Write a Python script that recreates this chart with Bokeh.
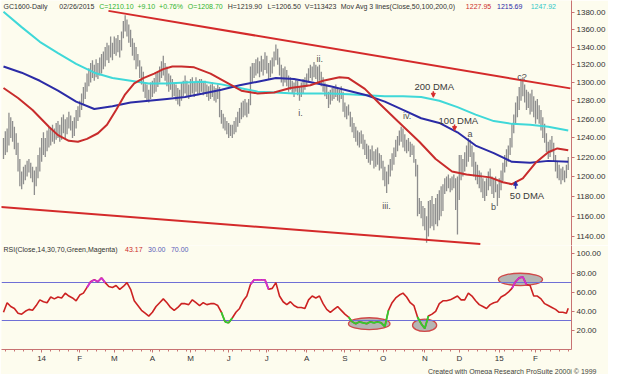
import math
from bokeh.plotting import figure
from bokeh.models import (Range1d, FixedTicker, PrintfTickFormatter, Label, Arrow,
                          NormalHead, ColumnDataSource, Title)
from bokeh.layouts import column
from bokeh.embed import file_html
from bokeh.resources import INLINE

# ---------------- data ----------------
lows = [
    1218, 1222, 1225, 1232, 1240, 1236, 1228, 1222, 1205, 1190,
    1187, 1192, 1196, 1200, 1204, 1198, 1194, 1181, 1190, 1198,
    1205, 1215, 1222, 1220, 1226, 1230, 1232, 1236, 1234, 1238,
    1240, 1236, 1238, 1245, 1240, 1244, 1250, 1248, 1240, 1242,
    1250, 1258, 1262, 1270, 1275, 1282, 1290, 1296, 1300, 1305,
    1302, 1306, 1304, 1308, 1310, 1315, 1318, 1325, 1322, 1328,
    1325, 1332, 1330, 1334, 1328, 1336, 1350, 1358, 1352, 1345,
    1340, 1330, 1325, 1315, 1318, 1305, 1298, 1290, 1283, 1280,
    1278, 1282, 1284, 1288, 1290, 1295, 1300, 1305, 1308, 1302,
    1296, 1290, 1292, 1284, 1285, 1280, 1276, 1274, 1280, 1285,
    1288, 1284, 1282, 1286, 1288, 1284, 1290, 1286, 1288, 1290,
    1286, 1288, 1284, 1280, 1282, 1284, 1280, 1278, 1282, 1262,
    1255, 1250, 1248, 1244, 1240, 1242, 1240, 1244, 1246, 1252,
    1256, 1260, 1262, 1264, 1262, 1266, 1275, 1300, 1305, 1308,
    1310, 1306, 1312, 1308, 1314, 1310, 1304, 1306, 1310, 1318,
    1325, 1320, 1308, 1300, 1296, 1300, 1296, 1290, 1292, 1288,
    1284, 1290, 1286, 1280, 1284, 1288, 1292, 1295, 1300, 1305,
    1302, 1306, 1304, 1300, 1302, 1296, 1290, 1285, 1282, 1272,
    1276, 1280, 1282, 1284, 1280, 1278, 1282, 1268, 1262, 1260,
    1264, 1252, 1246, 1240, 1236, 1232, 1230, 1234, 1228, 1222,
    1218, 1214, 1212, 1216, 1208, 1210, 1212, 1206, 1208, 1196,
    1190, 1183, 1192, 1200, 1206, 1212, 1220, 1226, 1232, 1236,
    1230, 1226, 1224, 1226, 1220, 1222, 1214, 1200, 1160, 1162,
    1158, 1150, 1146, 1134, 1140, 1148, 1150, 1146, 1152, 1150,
    1156, 1160, 1165, 1182, 1185, 1188, 1184, 1186, 1188, 1166,
    1142, 1176, 1196, 1200, 1205, 1210, 1215, 1220, 1210, 1200,
    1196, 1192, 1188, 1184, 1178, 1175, 1180, 1186, 1190, 1182,
    1178, 1184, 1170, 1178, 1186, 1195, 1204, 1210, 1215, 1222,
    1230, 1245, 1256, 1262, 1270, 1280, 1285, 1278, 1270, 1272,
    1265, 1268, 1262, 1255, 1260, 1255, 1248, 1240, 1235, 1225,
    1218, 1220, 1225, 1215, 1205, 1198, 1196, 1192, 1196, 1194,
    1198, 1206.5,
]
highs = [
    1240, 1247, 1250, 1267, 1262, 1258, 1252, 1245, 1235, 1218,
    1205, 1210, 1212, 1216, 1218, 1214, 1210, 1206, 1210, 1222,
    1230, 1240, 1246, 1240, 1248, 1252, 1250, 1254, 1250, 1256,
    1258, 1254, 1262, 1265, 1260, 1262, 1268, 1264, 1258, 1262,
    1270, 1274, 1280, 1288, 1295, 1300, 1310, 1316, 1322, 1325,
    1320, 1326, 1322, 1328, 1332, 1335, 1340, 1345, 1342, 1352,
    1345, 1352, 1350, 1354, 1348, 1358, 1370, 1377, 1372, 1366,
    1360, 1350, 1345, 1340, 1332, 1325, 1318, 1312, 1300, 1298,
    1292, 1300, 1302, 1305, 1310, 1312, 1318, 1324, 1330, 1322,
    1318, 1310, 1308, 1304, 1300, 1298, 1294, 1292, 1300, 1302,
    1308, 1302, 1298, 1304, 1306, 1300, 1306, 1302, 1304, 1304,
    1300, 1302, 1298, 1296, 1298, 1300, 1296, 1294, 1298, 1295,
    1270, 1266, 1262, 1258, 1256, 1254, 1254, 1258, 1262, 1268,
    1272, 1278, 1280, 1282, 1278, 1282, 1318, 1322, 1322, 1326,
    1328, 1324, 1330, 1326, 1334, 1330, 1322, 1325, 1328, 1335,
    1343, 1338, 1328, 1320, 1316, 1318, 1314, 1308, 1306, 1302,
    1300, 1304, 1302, 1296, 1300, 1304, 1306, 1310, 1316, 1320,
    1318, 1323, 1320, 1318, 1320, 1312, 1306, 1300, 1298, 1290,
    1292, 1294, 1296, 1298, 1294, 1292, 1296, 1290, 1278, 1274,
    1276, 1268, 1262, 1256, 1252, 1248, 1246, 1248, 1244, 1238,
    1234, 1232, 1228, 1232, 1226, 1228, 1230, 1224, 1222, 1216,
    1210, 1205, 1212, 1218, 1224, 1230, 1238, 1242, 1248, 1252,
    1250, 1244, 1238, 1240, 1236, 1234, 1232, 1218, 1212, 1178,
    1175, 1170, 1168, 1160, 1175, 1176, 1180, 1172, 1178, 1182,
    1186, 1190, 1192, 1198, 1200, 1202, 1198, 1200, 1202, 1198,
    1200, 1222, 1222, 1218, 1225, 1232, 1240, 1238, 1232, 1225,
    1215, 1212, 1206, 1204, 1198, 1195, 1198, 1205, 1208, 1200,
    1198, 1200, 1192, 1198, 1206, 1214, 1222, 1228, 1232, 1240,
    1255, 1265, 1278, 1285, 1295, 1302, 1306, 1298, 1292, 1290,
    1288, 1292, 1285, 1280, 1282, 1275, 1270, 1262, 1255, 1245,
    1236, 1238, 1242, 1235, 1222, 1215, 1212, 1208, 1210, 1206,
    1212, 1219.9,
]
bar_idx = list(range(len(lows)))

ma50_idx = [0, 8, 16, 25, 30, 36, 41, 46, 52, 57, 62, 67, 72, 77, 83, 88, 93, 98,
            105, 114, 122, 131, 140, 149, 158, 169, 176, 185, 190, 199, 207, 217,
            229, 238, 247, 255, 268, 275, 280, 286, 293, 300, 305, 311]
ma50 = [1294, 1283, 1270, 1252, 1243, 1237, 1236, 1239, 1245, 1254, 1270, 1287,
        1299, 1305, 1310, 1315, 1318, 1318, 1317, 1310, 1301, 1291, 1288, 1289,
        1294, 1297, 1302, 1306, 1305, 1293, 1277, 1258, 1236, 1218, 1205, 1202,
        1199, 1194, 1192, 1198, 1214, 1225, 1229, 1227]

ma_idx = [0, 10, 20, 30, 40, 50, 60, 70, 80, 90, 100, 110, 120, 130, 140, 150,
          160, 170, 180, 190, 200, 210, 220, 230, 240, 250, 260, 270, 280, 290,
          300, 311]
ma100 = [1318, 1311, 1302, 1291, 1279, 1271, 1274, 1278, 1280, 1282, 1284, 1288,
         1292, 1297, 1301, 1305, 1304, 1300, 1296, 1291, 1286, 1279, 1270, 1261,
         1256, 1246, 1232, 1224, 1215, 1214, 1216, 1215]
ma200 = [1381, 1363, 1346, 1333, 1321, 1311, 1305, 1302, 1299, 1299, 1300, 1301,
         1298, 1294, 1290, 1289, 1288, 1288, 1288, 1287, 1286, 1285, 1285, 1284,
         1280, 1273, 1265, 1258, 1255, 1254, 1252, 1248]

rsi_idx = list(range(0, 311, 2)) + [311]
rsi = [
    39, 49, 45, 43, 38, 37, 40, 42, 41, 46,
    52, 50, 49, 55, 53, 55, 54, 59, 56, 54,
    51, 57, 59, 65, 71, 73, 71, 75, 70, 66,
    65, 67, 63, 66, 70, 63, 51, 46, 41, 38,
    35, 39, 45, 49, 53, 49, 44, 41, 44, 48,
    48, 47, 52, 49, 46, 49, 47, 48, 48, 46,
    39, 29, 28, 33, 39, 43, 51, 56, 68, 73,
    73, 73, 73, 63, 64, 70, 56, 50, 47, 50,
    46, 44, 44, 43, 52, 56, 54, 56, 48, 42,
    39, 42, 45, 41, 37, 34, 29, 27, 29, 28,
    27, 29, 28, 29, 28, 24, 41, 49, 54, 57,
    59, 55, 49, 46, 34, 27, 22, 35, 37, 40,
    48, 51, 51, 52, 54, 56, 52, 52, 59, 56,
    51, 47, 45, 43, 47, 49, 50, 55, 57, 60,
    64, 71, 75, 76, 68, 67, 56, 56, 53, 48,
    46, 44, 42, 39, 39, 38, 43.17,
]

# trend lines (bar index, price) and highlight ellipses (bar index, RSI)
upper_x = [57.8, 312.2]
upper_y = [1382.0, 1293.6]
lower_x = [-1.6, 262.6]
lower_y = [1169.1, 1132.8]
ell_x = [201.4, 231.9, 284.7]
ell_y = [27.0, 25.4, 73.4]
ell_w = [22.9, 13.3, 24.3]
ell_h = [12.5, 12.9, 12.9]

month_idx = [21, 42, 61, 82, 103, 124, 145, 167, 188, 209, 232, 251, 273, 293]
month_labels = ["14", "F", "M", "A", "M", "J", "J", "A", "S", "O", "N", "D", "15", "F"]
price_ticks = [1140, 1160, 1180, 1200, 1220, 1240, 1260, 1280, 1300, 1320, 1340, 1360, 1380]
rsi_ticks = [20, 40, 60, 80, 100]

# ---------------- styling / layout ----------------
BG = "#fdfcee"
FONT = "Liberation Sans"
AX = "#c87272"
TXT = "#333333"
X0, X1 = -1.1, 312.8
Y0, Y1 = 1131.3, 1394.3
W = 608
RB = 35
FRAME_W = W - 1 - RB
H1 = 245


def fx(px):
    return X0 + px * (X1 - X0) / FRAME_W


def fy(py):
    return math.exp(math.log(Y1) - py / H1 * (math.log(Y1) - math.log(Y0)))


p1 = figure(width=W, height=H1, x_range=Range1d(X0, X1), y_range=Range1d(Y0, Y1),
            y_axis_type="log", y_axis_location="right", x_axis_location=None,
            output_backend="svg", toolbar_location=None, title=None,
            min_border_left=1, min_border_right=RB, min_border_top=0, min_border_bottom=0)
p2 = figure(width=W, height=129, x_range=p1.x_range, y_range=Range1d(0, 108.9),
            y_axis_location="right", output_backend="svg", toolbar_location=None,
            title=None, min_border_left=1, min_border_right=RB, min_border_top=0)

for p in (p1, p2):
    p.background_fill_color = BG
    p.border_fill_color = BG
    p.outline_line_color = None
    p.xgrid.visible = False
    p.ygrid.visible = False
    for ax in p.axis:
        ax.axis_line_color = AX
        ax.major_tick_line_color = AX
        ax.minor_tick_line_color = AX
        ax.major_tick_in = 0
        ax.major_tick_out = 3
        ax.minor_tick_in = 0
        ax.minor_tick_out = 2
        ax.major_label_text_font = FONT
        ax.major_label_text_font_size = "8px"
        ax.major_label_text_color = TXT
        ax.major_label_standoff = 2

p1.yaxis.ticker = FixedTicker(ticks=price_ticks)
p1.yaxis.formatter = PrintfTickFormatter(format="%.2f")
p1.yaxis.minor_tick_line_color = None
p2.yaxis.ticker = FixedTicker(ticks=rsi_ticks)
p2.yaxis.formatter = PrintfTickFormatter(format="%.2f")
p2.yaxis.minor_tick_line_color = None
p2.xaxis.ticker = FixedTicker(ticks=month_idx, minor_ticks=list(range(1, 312, 5)))
p2.xaxis.major_label_overrides = {k: v for k, v in zip(month_idx, month_labels)}
p2.xaxis.major_label_standoff = 1

# ---------------- price panel ----------------
src = ColumnDataSource(dict(x=bar_idx, lo=lows, hi=highs))
p1.segment(x0="x", y0="lo", x1="x", y1="hi", source=src, line_color="#8e8e8e", line_width=1.3)
p1.line(ma_idx, ma200, line_color="#3fd8d8", line_width=2)
p1.line(ma_idx, ma100, line_color="#2b2ba6", line_width=2)
p1.line(ma50_idx, ma50, line_color="#c82c2c", line_width=2)
p1.line(upper_x, upper_y, line_color="#d42a2a", line_width=2)
p1.line(lower_x, lower_y, line_color="#d42a2a", line_width=2)

header = [("GC1600-Daily", "#333333", 2), ("02/26/2015", "#333333", 58),
          ("C=1210.10", "#2fb42f", 98), ("+9.10", "#2fb42f", 136.4),
          ("+0.76%", "#2fb42f", 158.1), ("O=1208.70", "#2fb42f", 187),
          ("H=1219.90", "#333333", 227), ("L=1206.50", "#333333", 267),
          ("V=113423", "#333333", 304.3),
          ("Mov Avg 3 lines(Close,50,100,200,0)", "#333333", 340.4),
          ("1227.95", "#cc2c2c", 466), ("1215.69", "#2b2ba6", 497.3),
          ("1247.92", "#2fc8c8", 531)]
for t, c, px in header:
    p1.add_layout(Label(x=fx(px), y=fy(5.5), text=t, text_color=c, text_font=FONT,
                        text_font_size="7px", text_baseline="middle", text_align="left"))

for t, xx, yy in [("i.", 163.6, 1266.9), ("ii.", 174.2, 1326.3), ("iii.", 210.9, 1170.3),
                  ("iv.", 222.3, 1263.7), ("a", 256.9, 1243.9), ("b", 269.9, 1168.8),
                  ("c?", 285.6, 1306.0)]:
    p1.add_layout(Label(x=xx, y=yy, text=t, text_color="#505050", text_font=FONT,
                        text_font_size="9px", text_align="center", text_baseline="middle"))
for t, xx, yy in [("200 DMA", 237.2, 1295.2), ("100 DMA", 250.5, 1258.5),
                  ("50 DMA", 288.3, 1180.6)]:
    p1.add_layout(Label(x=xx, y=yy, text=t, text_color="#3a3a3a", text_font=FONT,
                        text_font_size="9.5px", text_align="center", text_baseline="middle"))
for xx, ys, ye, c in [(236.7, 1290.4, 1283.8, "#d42a2a"), (248.4, 1254.3, 1247.8, "#d42a2a"),
                      (282.0, 1187.3, 1195.0, "#2b2ba6")]:
    p1.add_layout(Arrow(end=NormalHead(size=4, fill_color=c, line_color=c),
                        x_start=xx, y_start=ys, x_end=xx, y_end=ye,
                        line_color=c, line_width=1.5))

# ---------------- RSI panel ----------------
p2.ellipse(x=ell_x, y=ell_y, width=ell_w, height=ell_h, fill_color="#a8a8a8",
           fill_alpha=0.85, line_color="#d04848", line_width=1.3)
p2.hspan(y=[30, 70], line_color="#6f6fd6", line_width=1)
p2.line(rsi_idx, rsi, line_color="#cc2222", line_width=1.6)
sx0, sy0, sx1, sy1, sc = [], [], [], [], []
for i in range(len(rsi) - 1):
    a, b = rsi[i], rsi[i + 1]
    if min(a, b) < 30:
        c = "#2ed02e"
    elif max(a, b) > 70:
        c = "#d030d0"
    else:
        continue
    sx0.append(rsi_idx[i]); sy0.append(a); sx1.append(rsi_idx[i + 1]); sy1.append(b); sc.append(c)
p2.segment(x0=sx0, y0=sy0, x1=sx1, y1=sy1, line_color=sc, line_width=1.8)

for t, c, px in [("RSI(Close,14,30,70,Green,Magenta)", "#333333", 2), ("43.17", "#cc2c2c", 124),
                 ("30.00", "#5a5ab8", 147), ("70.00", "#5a5ab8", 170)]:
    p2.add_layout(Label(x=fx(px), y=104.3, text=t, text_color=c, text_font=FONT,
                        text_font_size="7px", text_baseline="middle", text_align="left"))

p2.add_layout(Title(text="Created with Omega Research ProSuite 2000i \u00a9 1999", align="right",
                    text_font=FONT, text_font_size="7px", text_font_style="normal",
                    text_color="#444444", standoff=0, offset=-25), "below")

layout = column(p1, p2, spacing=0)
open("out.html", "w").write(file_html(layout, INLINE))
